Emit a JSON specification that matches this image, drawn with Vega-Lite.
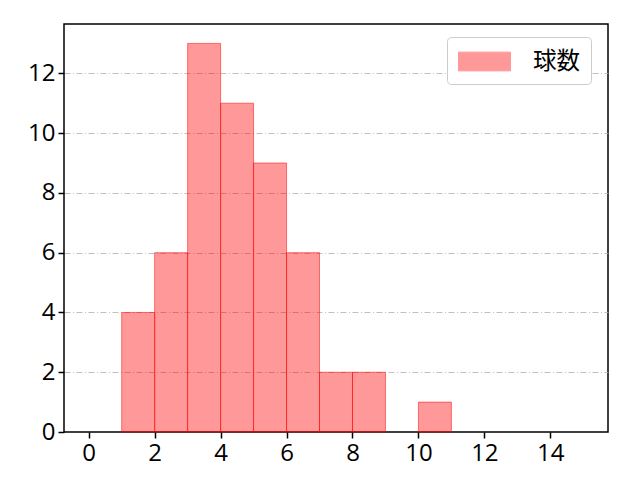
{
  "$schema": "https://vega.github.io/schema/vega-lite/v6.json",
  "width": 544,
  "height": 408,
  "autosize": "none",
  "padding": {"left": 64, "top": 24, "right": 32, "bottom": 48},
  "background": "white",
  "config": {
    "font": "Open Sans",
    "view": {"stroke": "black", "strokeWidth": 1.5},
    "axis": {
      "labelFont": "Open Sans",
      "labelFontSize": 24,
      "labelColor": "black",
      "domain": false,
      "tickColor": "black",
      "tickSize": 6,
      "tickWidth": 1.5,
      "labelPadding": 3,
      "title": null
    }
  },
  "data": {
    "values": [
      {"bin_start": 1, "bin_end": 2, "count": 4, "series": "球数"},
      {"bin_start": 2, "bin_end": 3, "count": 6, "series": "球数"},
      {"bin_start": 3, "bin_end": 4, "count": 13, "series": "球数"},
      {"bin_start": 4, "bin_end": 5, "count": 11, "series": "球数"},
      {"bin_start": 5, "bin_end": 6, "count": 9, "series": "球数"},
      {"bin_start": 6, "bin_end": 7, "count": 6, "series": "球数"},
      {"bin_start": 7, "bin_end": 8, "count": 2, "series": "球数"},
      {"bin_start": 8, "bin_end": 9, "count": 2, "series": "球数"},
      {"bin_start": 10, "bin_end": 11, "count": 1, "series": "球数"}
    ]
  },
  "mark": {
    "type": "bar",
    "fillOpacity": 0.4,
    "stroke": "#ff0000",
    "strokeOpacity": 0.5,
    "strokeWidth": 1
  },
  "encoding": {
    "x": {
      "field": "bin_start",
      "type": "quantitative",
      "scale": {"domain": [-0.75, 15.75], "nice": false, "zero": false},
      "axis": {"values": [0, 2, 4, 6, 8, 10, 12, 14], "grid": false}
    },
    "x2": {"field": "bin_end"},
    "y": {
      "field": "count",
      "type": "quantitative",
      "scale": {"domain": [0, 13.65], "nice": false},
      "axis": {
        "values": [0, 2, 4, 6, 8, 10, 12],
        "grid": true,
        "gridColor": "#b0b0b0",
        "gridWidth": 0.8,
        "gridDash": [6, 2.5, 1, 2.5],
        "gridOpacity": {"condition": {"test": "datum.value === 0", "value": 0}, "value": 1}
      }
    },
    "y2": {"datum": 0},
    "color": {
      "field": "series",
      "type": "nominal",
      "scale": {"range": ["#ff0000"]},
      "legend": {
        "title": null,
        "orient": "none",
        "legendX": 383,
        "legendY": 13,
        "symbolType": "M-1,-0.72H3V0.72H-1Z",
        "symbolSize": 676,
        "symbolOpacity": 0.4,
        "symbolStrokeColor": "#ff0000",
        "symbolStrokeWidth": 1,
        "labelFont": "Noto Sans CJK JP",
        "labelFontSize": 23.5,
        "labelColor": "black",
        "labelOffset": 48,
        "padding": 11,
        "fillColor": "white",
        "strokeColor": "#cccccc",
        "cornerRadius": 4
      }
    }
  }
}
